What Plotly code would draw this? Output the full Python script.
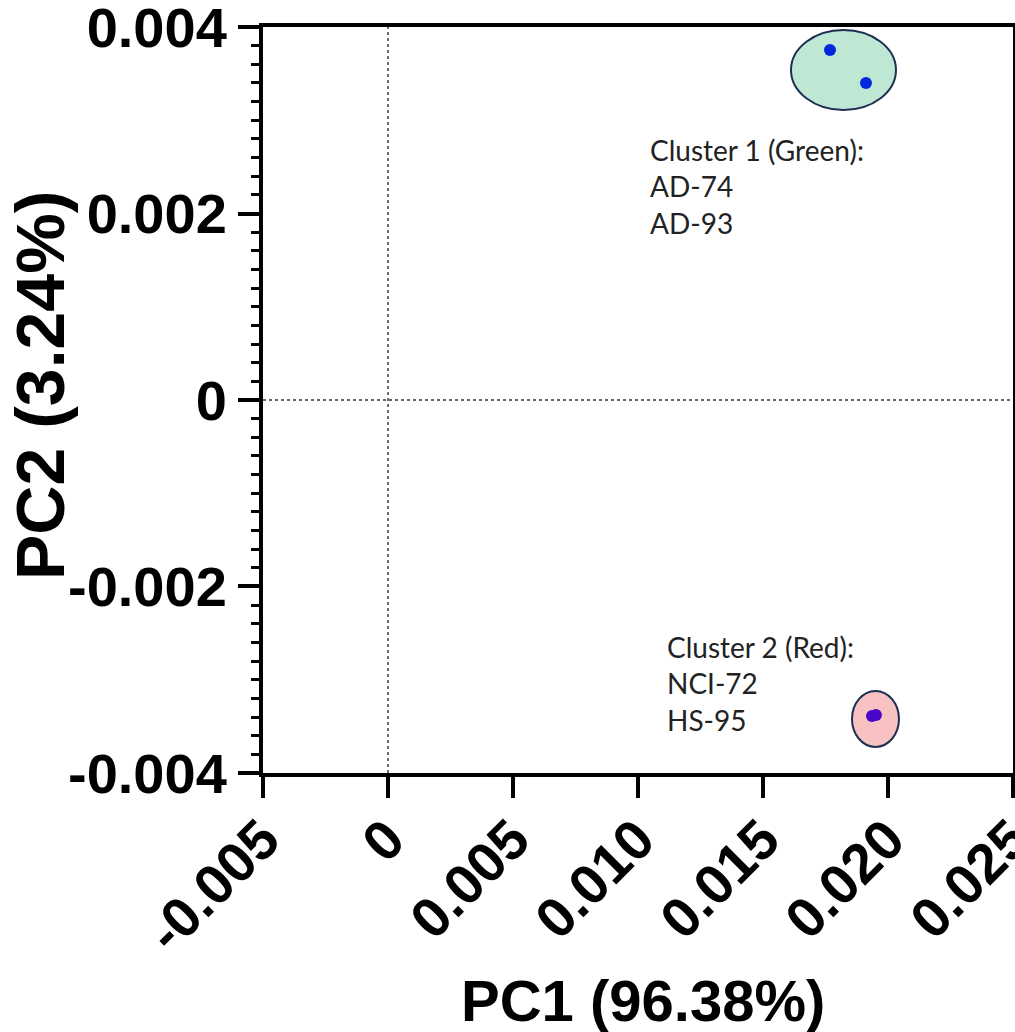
import plotly.graph_objects as go

# ---- data ----
cluster1_x = [0.01768, 0.01912]
cluster1_y = [0.003753, 0.003400]
cluster2_x = [0.01936, 0.01952]
cluster2_y = [-0.003389, -0.003378]

# ellipse bounds (x0, x1, y0, y1)
ellipse1 = [0.01612, 0.02032, 0.00311, 0.003968]
ellipse2 = [0.01856, 0.02044, -0.003721, -0.003121]

x_tickvals = [-0.005, 0, 0.005, 0.010, 0.015, 0.020, 0.025]
x_ticktext = ["-0.005", "0", "0.005", "0.010", "0.015", "0.020", "0.025"]
y_tickvals = [0.004, 0.002, 0, -0.002, -0.004]
y_ticktext = ["0.004", "0.002", "0", "-0.002", "-0.004"]

label1_lines = ["Cluster 1 (Green):", "AD-74", "AD-93"]
label1_x = 0.01040
label1_y = [0.002681, 0.002295, 0.001898]
label2_lines = ["Cluster 2 (Red):", "NCI-72", "HS-95"]
label2_x = 0.01106
label2_y = [-0.002649, -0.003035, -0.003432]

x_title = "PC1 (96.38%)"
y_title = "PC2 (3.24%)"

fig = go.Figure()

fig.add_shape(type="circle", xref="x", yref="y",
              x0=ellipse1[0], x1=ellipse1[1], y0=ellipse1[2], y1=ellipse1[3],
              fillcolor="#bfe8d4", line=dict(color="#1e2f52", width=2), layer="below")
fig.add_shape(type="circle", xref="x", yref="y",
              x0=ellipse2[0], x1=ellipse2[1], y0=ellipse2[2], y1=ellipse2[3],
              fillcolor="#f9c2c2", line=dict(color="#1e2f52", width=2), layer="below")

# dotted zero lines
fig.add_shape(type="line", xref="x", yref="paper", x0=0, x1=0, y0=0, y1=1,
              line=dict(color="#333333", width=1.4, dash="dot"), layer="below")
fig.add_shape(type="line", xref="paper", yref="y", x0=0, x1=1, y0=0, y1=0,
              line=dict(color="#333333", width=1.4, dash="dot"), layer="below")

fig.add_trace(go.Scatter(x=cluster1_x, y=cluster1_y, mode="markers",
                         marker=dict(color="#0028dc", size=12), showlegend=False))
fig.add_trace(go.Scatter(x=cluster2_x, y=cluster2_y, mode="markers",
                         marker=dict(color="#4a06c8", size=12), showlegend=False))

for txt, yy in zip(label1_lines, label1_y):
    fig.add_annotation(x=label1_x, y=yy, xref="x", yref="y", text=txt, showarrow=False,
                       xanchor="left", yanchor="middle",
                       font=dict(family="Lato", size=28, color="#222222"))
for txt, yy in zip(label2_lines, label2_y):
    fig.add_annotation(x=label2_x, y=yy, xref="x", yref="y", text=txt, showarrow=False,
                       xanchor="left", yanchor="middle",
                       font=dict(family="Lato", size=28, color="#222222"))

fig.add_annotation(x=0.5067, y=-0.3056, xref="paper", yref="paper", text=x_title,
                   showarrow=False, xanchor="center", yanchor="middle",
                   font=dict(family="Liberation Sans", size=58, color="black", weight="bold"))
fig.add_annotation(x=-0.2973, y=0.5188, xref="paper", yref="paper", text=y_title,
                   showarrow=False, xanchor="center", yanchor="middle", textangle=-90,
                   font=dict(family="Liberation Sans", size=68, color="black", weight="bold"))

fig.update_xaxes(range=[-0.005001, 0.025001], showgrid=False, zeroline=False,
                 showline=True, linewidth=4, linecolor="black", mirror=True,
                 ticks="outside", ticklen=21, tickwidth=4, tickcolor="black",
                 tickvals=x_tickvals, ticktext=x_ticktext, tickangle=-45,
                 ticklabeloverflow="allow", ticklabelstandoff=-14,
                 tickfont=dict(family="Liberation Sans", size=56, color="black", weight="bold"))
fig.update_yaxes(range=[-0.0040003, 0.0040003], showgrid=False, zeroline=False,
                 showline=True, linewidth=4, linecolor="black", mirror=True,
                 ticks="outside", ticklen=21, tickwidth=4, tickcolor="black",
                 tickvals=y_tickvals, ticktext=y_ticktext,
                 ticklabeloverflow="allow",
                 tickfont=dict(family="Liberation Sans", size=56, color="black", weight="bold"),
                 minor=dict(ticks="outside", ticklen=8, tickwidth=3, tickcolor="black",
                            dtick=0.0002, showgrid=False))

fig.update_layout(width=1015, height=1032, plot_bgcolor="white", paper_bgcolor="white",
                  margin=dict(l=263, r=2, t=27, b=259, autoexpand=False),
                  showlegend=False)

fig.write_html("out.html", config={"displayModeBar": False},
               post_script="document.body.style.margin='0';document.body.style.overflow='hidden';")
